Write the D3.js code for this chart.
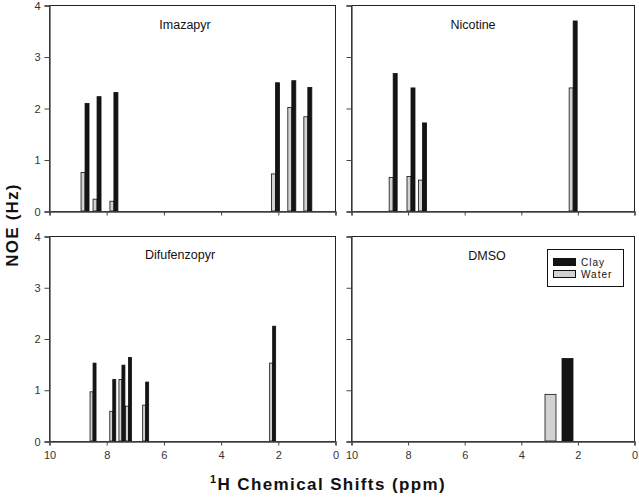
<!DOCTYPE html>
<html>
<head>
<meta charset="utf-8">
<script src="https://cdn.jsdelivr.net/npm/d3@7"></script>
<style>
  html, body { margin: 0; padding: 0; background: #fff; }
  svg { display: block; }
  text { font-family: "Liberation Sans", Arial, sans-serif; }
</style>
</head>
<body>
<svg id="chart" width="639" height="498"></svg>
<script>
// ---- data ----
const panelTitles = ["Imazapyr", "Nicotine", "Difufenzopyr", "DMSO"];
const seriesNames = ["Clay", "Water"];
const xTicks = [10, 8, 6, 4, 2, 0];
const yTicks = [0, 1, 2, 3, 4];

// chemical shift (ppm) of each peak, and NOE (Hz) for water and clay
const imazapyrShift = [8.74, 8.32, 7.73, 2.08, 1.51, 0.95];
const imazapyrWater = [0.75, 0.23, 0.19, 0.72, 2.01, 1.83];
const imazapyrClay  = [2.09, 2.22, 2.30, 2.49, 2.53, 2.40];

const nicotineShift = [8.51, 7.88, 7.47, 2.15];
const nicotineWater = [0.65, 0.67, 0.60, 2.39];
const nicotineClay  = [2.67, 2.39, 1.71, 3.69];

const difufenzopyrShift = [8.46, 7.77, 7.45, 7.22, 6.62, 2.18];
const difufenzopyrWater = [0.96, 0.58, 1.20, 0.68, 0.70, 1.52];
const difufenzopyrClay  = [1.52, 1.20, 1.48, 1.63, 1.15, 2.24];

const dmsoShift = [2.65];
const dmsoWater = [0.91];
const dmsoClay  = [1.61];

const panelData = [
  { shift: imazapyrShift, water: imazapyrWater, clay: imazapyrClay },
  { shift: nicotineShift, water: nicotineWater, clay: nicotineClay },
  { shift: difufenzopyrShift, water: difufenzopyrWater, clay: difufenzopyrClay },
  { shift: dmsoShift, water: dmsoWater, clay: dmsoClay }
];

// ---- layout / style ----
const layout = [
  { x: 49, y: 5,   w: 286, h: 206, tx: 185, ty: 29,  bw: 4,  gap: 0, xl: false, yl: true },
  { x: 351, y: 5,  w: 283, h: 206, tx: 473, ty: 29,  bw: 4,  gap: 0, xl: false, yl: false },
  { x: 49, y: 236, w: 286, h: 205, tx: 180, ty: 259, bw: 3,  gap: 0, xl: true,  yl: true },
  { x: 351, y: 236, w: 283, h: 205, tx: 487, ty: 260, bw: 11, gap: 6, xl: true,  yl: false }
];
const clayColor = "#141414";
const waterColor = "#d2d2d2";

const svg = d3.select("#chart");

layout.forEach((L, i) => {
  const d = panelData[i];
  const x = d3.scaleLinear().domain([10, 0]).range([L.x, L.x + L.w]);
  const y = d3.scaleLinear().domain([0, 4]).range([L.y + L.h, L.y]);
  const g = svg.append("g");

  // frame
  g.append("rect")
    .attr("x", L.x + 0.5).attr("y", L.y + 0.5)
    .attr("width", L.w).attr("height", L.h)
    .attr("fill", "none").attr("stroke", "#222").attr("stroke-width", 1);

  // bars
  const peaks = d.shift.map((s, k) => ({ s, w: d.water[k], c: d.clay[k] }));
  g.selectAll("rect.water").data(peaks).enter().append("rect")
    .attr("class", "water")
    .attr("x", p => x(p.s) - L.gap / 2 - L.bw)
    .attr("y", p => y(p.w))
    .attr("width", L.bw)
    .attr("height", p => y(0) - y(p.w))
    .attr("fill", waterColor).attr("stroke", "#111").attr("stroke-width", 0.8);
  g.selectAll("rect.clay").data(peaks).enter().append("rect")
    .attr("class", "clay")
    .attr("x", p => x(p.s) + L.gap / 2)
    .attr("y", p => y(p.c))
    .attr("width", L.bw)
    .attr("height", p => y(0) - y(p.c))
    .attr("fill", clayColor).attr("stroke", "#111").attr("stroke-width", 0.8);

  // axes
  const xa = d3.axisBottom(x).tickValues(xTicks).tickSize(4).tickPadding(6)
    .tickFormat(L.xl ? d3.format("d") : () => "");
  const gx = g.append("g").attr("transform", `translate(0.5,${L.y + L.h + 0.5})`).call(xa);
  const ya = d3.axisLeft(y).tickValues(yTicks).tickSize(5).tickPadding(4)
    .tickFormat(L.yl ? d3.format("d") : () => "");
  const gy = g.append("g").attr("transform", `translate(${L.x + 0.5},0.5)`).call(ya);
  [gx, gy].forEach(a => {
    a.select(".domain").attr("stroke", "#444").attr("stroke-width", 1.3);
    a.selectAll(".tick line").attr("stroke", "#444");
    a.selectAll(".tick text").attr("fill", "#333").style("font-size", "11px")
      .style("font-family", "'Liberation Sans', Arial, sans-serif");
  });

  // title
  g.append("text").attr("x", L.tx).attr("y", L.ty)
    .attr("text-anchor", "middle").style("font-size", "12.5px").attr("fill", "#111")
    .text(panelTitles[i]);
});

// legend in DMSO panel
const lg = svg.append("g");
lg.append("rect").attr("x", 547.5).attr("y", 249.5).attr("width", 76).attr("height", 37)
  .attr("fill", "#fff").attr("stroke", "#111");
const legendItems = seriesNames.map((n, k) => ({ n, color: k === 0 ? clayColor : waterColor, k }));
lg.selectAll("rect.sw").data(legendItems).enter().append("rect")
  .attr("class", "sw")
  .attr("x", 553.5).attr("y", d => 258.5 + d.k * 12)
  .attr("width", 22).attr("height", 7)
  .attr("fill", d => d.color).attr("stroke", "#111");
lg.selectAll("text").data(legendItems).enter().append("text")
  .attr("x", 581).attr("y", d => 266 + d.k * 12)
  .style("font-size", "10px").style("letter-spacing", "1px").attr("fill", "#111")
  .text(d => d.n);

// axis titles
svg.append("text")
  .attr("transform", "translate(18,225) rotate(-90)")
  .attr("text-anchor", "middle")
  .style("font-size", "17px").style("font-weight", "bold").style("letter-spacing", "1.2px")
  .attr("fill", "#111")
  .text("NOE (Hz)");

const xt = svg.append("text")
  .attr("x", 328).attr("y", 490)
  .attr("text-anchor", "middle")
  .style("font-size", "17px").style("font-weight", "bold").style("letter-spacing", "1.4px")
  .attr("fill", "#111");
xt.append("tspan").attr("dy", "-7").style("font-size", "11px").text("1");
xt.append("tspan").attr("dy", "7").text("H Chemical Shifts (ppm)");
</script>
</body>
</html>
